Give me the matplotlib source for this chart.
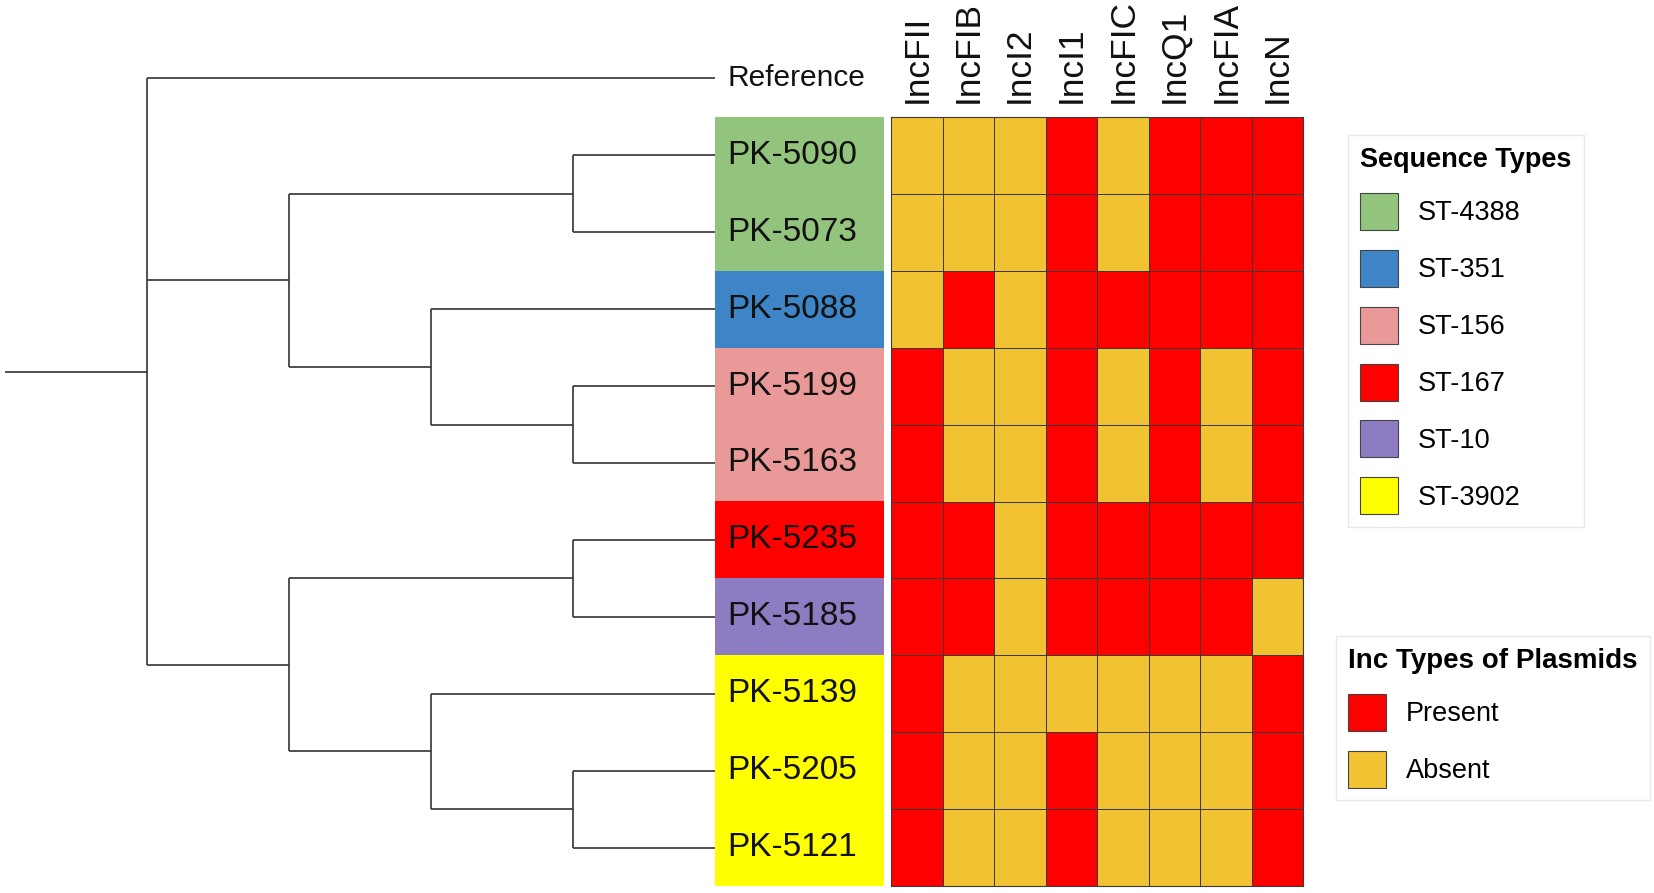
import matplotlib
matplotlib.use('Agg')
import matplotlib.pyplot as plt
from matplotlib.patches import Patch
from matplotlib.colors import ListedColormap
from matplotlib.lines import Line2D
import numpy as np

plt.rcParams['font.family'] = ['Liberation Sans', 'DejaVu Sans']

# ---------------- data ----------------
reference = 'Reference'
isolates = ['PK-5090', 'PK-5073', 'PK-5088', 'PK-5199', 'PK-5163',
            'PK-5235', 'PK-5185', 'PK-5139', 'PK-5205', 'PK-5121']
isolate_st = ['ST-4388', 'ST-4388', 'ST-351', 'ST-156', 'ST-156',
              'ST-167', 'ST-10', 'ST-3902', 'ST-3902', 'ST-3902']
st_names = ['ST-4388', 'ST-351', 'ST-156', 'ST-167', 'ST-10', 'ST-3902']
st_colors = ['#93C47D', '#3D85C6', '#EA9999', '#FF0000', '#8E7CC3', '#FFFF00']
inc_types = ['IncFII', 'IncFIB', 'IncI2', 'IncI1', 'IncFIC', 'IncQ1', 'IncFIA', 'IncN']
presence = [
    [0, 0, 0, 1, 0, 1, 1, 1],   # PK-5090
    [0, 0, 0, 1, 0, 1, 1, 1],   # PK-5073
    [0, 1, 0, 1, 1, 1, 1, 1],   # PK-5088
    [1, 0, 0, 1, 0, 1, 0, 1],   # PK-5199
    [1, 0, 0, 1, 0, 1, 0, 1],   # PK-5163
    [1, 1, 0, 1, 1, 1, 1, 1],   # PK-5235
    [1, 1, 0, 1, 1, 1, 1, 0],   # PK-5185
    [1, 0, 0, 0, 0, 0, 0, 1],   # PK-5139
    [1, 0, 0, 1, 0, 0, 0, 1],   # PK-5205
    [1, 0, 0, 1, 0, 0, 0, 1],   # PK-5121
]
status_names = ['Present', 'Absent']
status_colors = ['#FF0000', '#F1C232']
tree = ('Reference',
        (('PK-5090', 'PK-5073'), ('PK-5088', ('PK-5199', 'PK-5163'))),
        (('PK-5235', 'PK-5185'), ('PK-5139', ('PK-5205', 'PK-5121'))))

# ---------------- figure ----------------
W, H = 1654, 893
fig = plt.figure(figsize=(W / 100, H / 100), dpi=100)

def fax(x0, y0, x1, y1):
    """axes from pixel box (top-left origin)"""
    return fig.add_axes([x0 / W, 1 - y1 / H, (x1 - x0) / W, (y1 - y0) / H])

leaf_order = [reference] + isolates
ypos = {n: i for i, n in enumerate(leaf_order)}
nrows = len(leaf_order)

def height(node):
    return 0 if isinstance(node, str) else 1 + max(height(c) for c in node)

leaf_x = height(tree) + 1
line_kw = dict(color='#333333', lw=1.2, solid_capstyle='butt')

ax_t = fax(5, 40, 715, 886)
ax_t.set_xlim(0, leaf_x)
ax_t.set_ylim(nrows - 0.5, -0.5)
ax_t.axis('off')

def layout(node):
    if isinstance(node, str):
        return leaf_x, ypos[node]
    pts = [layout(c) for c in node]
    x = leaf_x - height(node)
    ys = [p[1] for p in pts]
    y = (min(ys) + max(ys)) / 2
    ax_t.plot([x, x], [min(ys), max(ys)], **line_kw)
    for cx, cy in pts:
        ax_t.plot([x, cx], [cy, cy], **line_kw)
    return x, y

rx, ry = layout(tree)
ax_t.plot([0, rx], [ry, ry], **line_kw)

for name in leaf_order:
    ax_t.annotate(name, (leaf_x, ypos[name]), xytext=(12, 0),
                  textcoords='offset pixels', va='center', ha='left',
                  fontsize=21.5 if name == reference else 24,
                  color='#111111', annotation_clip=False, zorder=5)

# sequence-type colour boxes
ax_l = fax(715, 117, 884, 886)
st_idx = np.array([[st_names.index(s)] for s in isolate_st])
ax_l.imshow(st_idx, cmap=ListedColormap(st_colors), vmin=-0.5,
            vmax=len(st_names) - 0.5, aspect='auto', interpolation='nearest',
            extent=(0, 1, len(isolates) + 0.5, 0.5))
ax_l.set_xlim(0, 1)
ax_l.set_ylim(len(isolates) + 0.5, 0.5)
ax_l.axis('off')
ax_l.set_zorder(-1)

# heatmap
ax_h = fax(891, 117, 1303, 886)
mat = np.array(presence)
ax_h.pcolormesh(np.arange(len(inc_types) + 1), np.arange(len(isolates) + 1) + 0.5,
                mat, cmap=ListedColormap(status_colors[::-1]), vmin=0, vmax=1,
                edgecolors='#3a3a3a', linewidth=0.7)
ax_h.set_xlim(0, len(inc_types))
ax_h.set_ylim(len(isolates) + 0.5, 0.5)
ax_h.xaxis.tick_top()
ax_h.set_xticks(np.arange(len(inc_types)) + 0.5)
ax_h.set_xticklabels(inc_types, rotation=90, fontsize=25.5, color='#111111')
ax_h.tick_params(axis='x', length=0, pad=10)
ax_h.set_yticks([])
for s in ax_h.spines.values():
    s.set_color('#3a3a3a')
    s.set_linewidth(0.8)

# legends
def make_legend(names, colors, title, anchor, size, tsize):
    handles = [Patch(facecolor=c, edgecolor='#444444', lw=0.8) for c in colors]
    leg = fig.legend(handles, names, title=title, loc='upper left',
                     bbox_to_anchor=anchor, bbox_transform=fig.transFigure,
                     prop={'size': size},
                     title_fontproperties={'size': tsize, 'weight': 'bold'},
                     alignment='left', frameon=True, fancybox=False,
                     edgecolor='#e8e8e8', framealpha=1,
                     handlelength=1.4, handleheight=1.73, labelspacing=0.73,
                     handletextpad=0.74, borderpad=0.45, borderaxespad=0)
    leg.get_frame().set_linewidth(1.0)
    return leg

leg1 = make_legend(st_names, st_colors, 'Sequence Types',
                   (1348 / W, 1 - 135 / H), 19.5, 19.5)
leg2 = make_legend(status_names, status_colors, 'Inc Types of Plasmids',
                   (1336 / W, 1 - 636 / H), 19.5, 20)

fig.canvas.draw()
for leg in (leg1, leg2):
    fb = leg.get_window_extent()
    tb = leg.get_title().get_window_extent()
    y = tb.y0 - 5
    fig.add_artist(Line2D([(fb.x0 + 4) / W, (fb.x1 - 4) / W], [y / H, y / H],
                          transform=fig.transFigure, color='#555555', lw=1.2))

fig.savefig('out.png', dpi=100, facecolor='white')
